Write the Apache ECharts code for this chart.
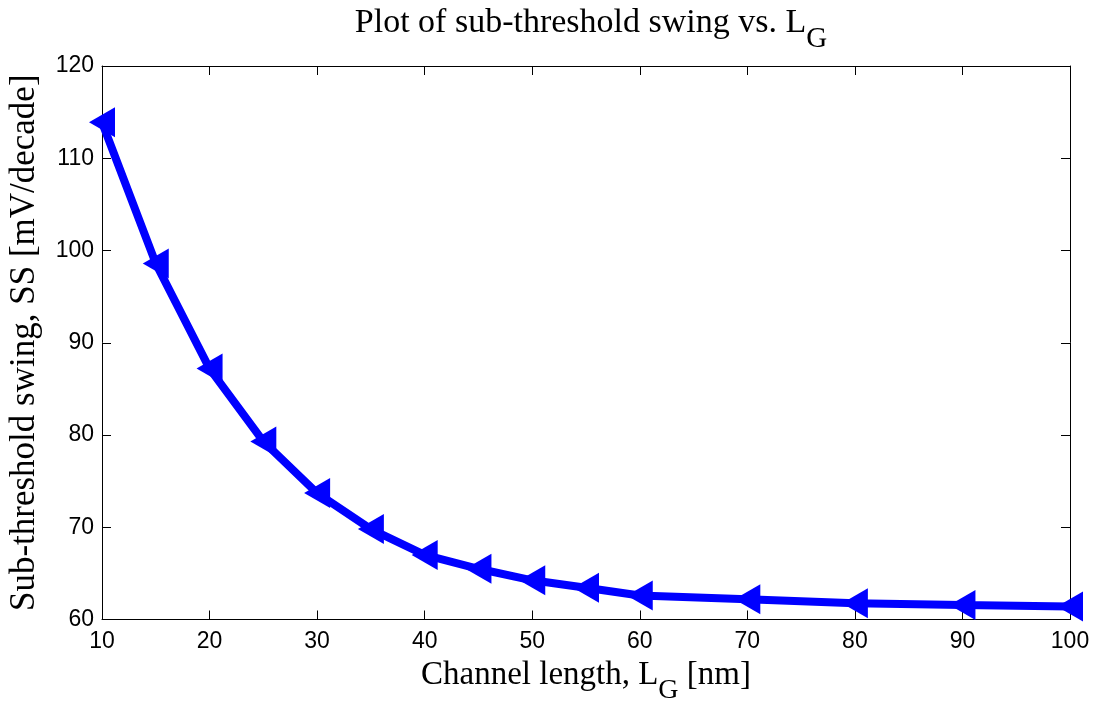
<!DOCTYPE html>
<html><head><meta charset="utf-8">
<script src="https://cdn.jsdelivr.net/npm/echarts@6/dist/echarts.min.js"></script>
<style>html,body{margin:0;padding:0;background:#fff}#c{width:1095px;height:706px}</style>
</head><body><div id="c"></div>
<script>
const lengths = [10, 15, 20, 25, 30, 35, 40, 45, 50, 55, 60, 70, 80, 90, 100];
const swing = [113.9, 98.6, 87.2, 79.3, 73.7, 69.8, 67.0, 65.5, 64.25, 63.45, 62.6, 62.2, 61.75, 61.57, 61.4];
const xTicks = [10, 20, 30, 40, 50, 60, 70, 80, 90, 100];
const yTicks = [60, 70, 80, 90, 100, 110, 120];

const serif = '"Liberation Serif","Times New Roman",serif';
const sans = '"Liberation Sans",Arial,sans-serif';
const chart = echarts.init(document.getElementById('c'));
const tMain = {fontFamily: serif, fontSize: 34, fontWeight: 'normal', color: '#000'};
const tSub = {fontFamily: serif, fontSize: 29, fontWeight: 'normal', color: '#000', padding: [32, 0, 0, 0]};
const xMain = {fontFamily: serif, fontSize: 33, fontWeight: 'normal', color: '#000'};
const xSub = {fontFamily: serif, fontSize: 28, fontWeight: 'normal', color: '#000', padding: [30, 0, 0, 0]};
const yMain = {fontFamily: serif, fontSize: 35, fontWeight: 'normal', color: '#000'};
const baseX = {
  type: 'value', min: xTicks[0], max: xTicks[xTicks.length - 1], interval: 10,
  axisLine: {show: true, onZero: false, lineStyle: {color: '#000', width: 1}},
  axisTick: {show: true, inside: true, length: 9, lineStyle: {color: '#000'}},
  splitLine: {show: false}
};
const baseY = {
  type: 'value', min: yTicks[0], max: yTicks[yTicks.length - 1], interval: 10,
  axisLine: {show: true, onZero: false, lineStyle: {color: '#000', width: 1}},
  axisTick: {show: true, inside: true, length: 9, lineStyle: {color: '#000'}},
  splitLine: {show: false}
};
chart.setOption({
  animation: false,
  backgroundColor: '#fff',
  title: {
    text: '{a|Plot of sub-threshold swing vs. L}{b|G}',
    left: 586, textAlign: 'center', top: -12,
    textStyle: {fontWeight: 'normal', rich: {a: tMain, b: tSub}}
  },
  grid: {left: 102, top: 66, right: 25, bottom: 86.5, containLabel: false, outerBoundsMode: 'none'},
  xAxis: [
    Object.assign({}, baseX, {
      position: 'bottom',
      axisLabel: {show: true, fontFamily: sans, fontSize: 23, color: '#000', margin: 11},
      name: '{a|Channel length, L}{b|G}{a| [nm]}',
      nameLocation: 'middle', nameGap: 27,
      nameTextStyle: {rich: {a: xMain, b: xSub}}
    }),
    Object.assign({}, baseX, {position: 'top', axisLabel: {show: false}})
  ],
  yAxis: [
    Object.assign({}, baseY, {
      position: 'left',
      axisLabel: {show: true, fontFamily: sans, fontSize: 23, color: '#000', margin: 8},
      name: 'Sub-threshold swing, SS [mV/decade]',
      nameLocation: 'middle', nameGap: 60,
      nameTextStyle: yMain
    }),
    Object.assign({}, baseY, {position: 'right', axisLabel: {show: false}})
  ],
  series: [{
    type: 'line',
    data: lengths.map((x, i) => [x, swing[i]]),
    lineStyle: {color: '#0000ff', width: 8},
    itemStyle: {color: '#0000ff'},
    symbol: 'triangle', symbolSize: [30, 26], symbolRotate: 90,
    showSymbol: true, clip: false, z: 5
  }]
});
</script></body></html>
